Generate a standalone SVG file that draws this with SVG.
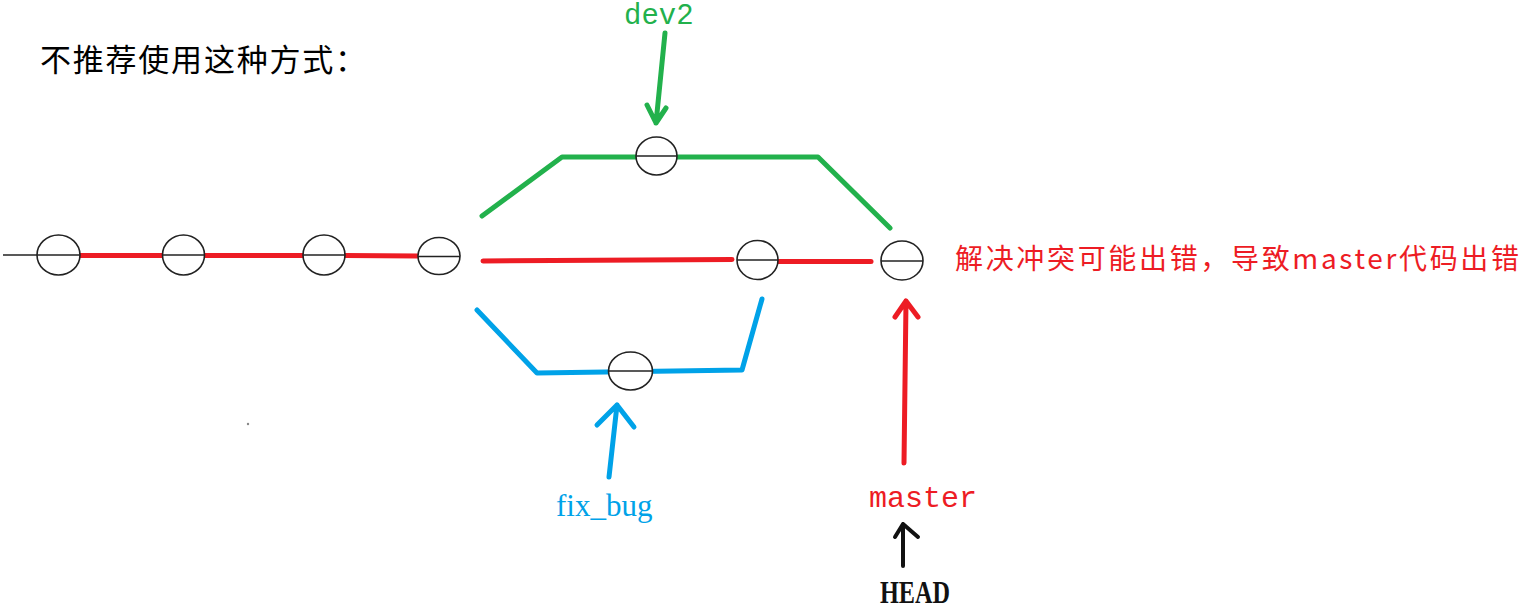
<svg xmlns="http://www.w3.org/2000/svg" width="1529" height="612" viewBox="0 0 1529 612">
<style>
.node ellipse{fill:#fff;stroke:#222;stroke-width:1.6}
.node line{stroke:#222;stroke-width:1.6}
.g{stroke:#22b14c;stroke-width:5;fill:none;stroke-linecap:round;stroke-linejoin:round}
.r{stroke:#ed1c24;stroke-width:5;fill:none;stroke-linecap:round;stroke-linejoin:round}
.b{stroke:#00a2e8;stroke-width:5;fill:none;stroke-linecap:round;stroke-linejoin:round}
.k{stroke:#111;stroke-width:4;fill:none;stroke-linecap:round;stroke-linejoin:round}
.mono{font-family:"Liberation Mono","DejaVu Sans Mono",monospace}
.cjk{font-family:"Noto Sans CJK SC","Noto Sans CJK JP",sans-serif}
</style>
<rect width="1529" height="612" fill="#fff"/>
<text x="40" y="71" class="cjk" font-size="31" fill="#000" textLength="326" lengthAdjust="spacing">不推荐使用这种方式：</text>
<g id="connectors">
<line x1="3" y1="255" x2="37" y2="255" stroke="#222" stroke-width="1.6"/>
<line class="r" x1="80" y1="255.5" x2="162" y2="255.5"/>
<line class="r" x1="205" y1="255.5" x2="303" y2="255.5"/>
<line class="r" x1="345" y1="255.5" x2="418" y2="256"/>
<polyline class="g" points="482,216 562,157 818,157 890,228"/>
<polyline class="r" points="483,261 732,259.5"/>
<line class="r" x1="778" y1="261.5" x2="871" y2="261.5"/>
<polyline class="b" points="477,310 537,373 742,370 762,299"/>
<path class="g" d="M665,33 L656,123 M647,105 L656,123 L666,108"/>
<path class="b" d="M609,477 L617,405 M597,425 L617,405 L634,427"/>
<path class="r" d="M904,463 L906,301 M895,317 L906,301 L918,317"/>
<path class="k" d="M903,566 L903,524 M895,537 L903,524 L918,537"/>
</g>
<g id="c1" class="node"><ellipse cx="58.5" cy="255" rx="21.5" ry="20"/><line x1="37" y1="255" x2="80" y2="255"/></g>
<g id="c2" class="node"><ellipse cx="183.5" cy="255" rx="21" ry="20"/><line x1="162.5" y1="255" x2="204.5" y2="255"/></g>
<g id="c3" class="node"><ellipse cx="324" cy="255" rx="21" ry="20"/><line x1="303" y1="255" x2="345" y2="255"/></g>
<g id="c4" class="node"><ellipse cx="439" cy="256" rx="21" ry="18.5"/><line x1="418" y1="256.5" x2="460" y2="256.5"/></g>
<g id="dev2-commit" class="node"><ellipse cx="656.5" cy="156" rx="20.5" ry="19"/><line x1="636" y1="156" x2="677" y2="156"/></g>
<g id="fix-commit" class="node"><ellipse cx="630.5" cy="371" rx="22" ry="19"/><line x1="608.5" y1="371" x2="652.5" y2="371"/></g>
<g id="m1" class="node"><ellipse cx="757.5" cy="260" rx="20.5" ry="19.5"/><line x1="737" y1="260" x2="778" y2="260"/></g>
<g id="m2" class="node"><ellipse cx="902" cy="260.5" rx="21" ry="19.5"/><line x1="881" y1="261" x2="923" y2="261"/></g>
<g id="label-dev2"><text x="624" y="24" class="mono" font-size="29" fill="#22b14c">dev2</text></g>
<g id="label-fix"><text x="556" y="516" font-family="Liberation Serif,serif" font-size="31" fill="#00a2e8">fix_bug</text></g>
<g id="label-master"><text x="869" y="507" class="mono" font-size="30" fill="#ed1c24">master</text></g>
<g id="label-head"><text x="880" y="603" font-family="Liberation Serif,serif" font-weight="bold" font-size="32" fill="#111" textLength="70" lengthAdjust="spacingAndGlyphs">HEAD</text></g>
<g id="label-msg"><text x="955" y="269" class="cjk" font-size="28" fill="#ed1c24" textLength="564" lengthAdjust="spacing">解决冲突可能出错，导致master代码出错</text></g>
<circle cx="248" cy="424" r="1.2" fill="#888"/>
</svg>
